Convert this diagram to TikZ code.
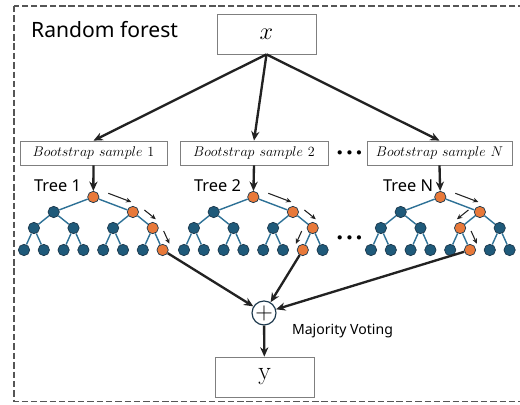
\documentclass[tikz,border=0pt]{standalone}
\usepackage{fontspec}
\setsansfont{Noto Sans}
\usetikzlibrary{arrows.meta}
\usetikzlibrary{calc}
\definecolor{knoten}{RGB}{31,90,122}
\definecolor{kante}{RGB}{46,113,150}
\definecolor{pfad}{RGB}{232,121,58}
\definecolor{umriss}{RGB}{27,55,75}
\definecolor{pfeil}{RGB}{34,34,34}
\definecolor{rahmen}{RGB}{85,85,85}
\definecolor{kastenrand}{RGB}{127,127,127}

\tikzset{
	kasten/.style={draw=kastenrand, line width=0.6pt, fill=white, inner sep=0pt},
	blatt/.style={circle, draw=umriss, fill=knoten, line width=0.6pt, inner sep=0pt, minimum size=3.4mm},
	aktiv/.style={blatt, fill=pfad},
	zweig/.style={kante, line width=1.2pt},
	hauptpfeil/.style={pfeil, line width=2pt, -{Stealth[length=8pt, width=7pt]}},
	kleinpfeil/.style={pfeil, line width=0.9pt, -{Stealth[length=4.5pt, width=4pt]}},
	beschriftung/.style={font=\sffamily\fontsize{14}{16}\selectfont, anchor=base west}
}

\begin{document}
\begin{tikzpicture}[x=0.03cm, y=-0.03cm]
	\useasboundingbox (0,0) rectangle (520,405);

	% Rahmen
	\draw[rahmen, line width=0.9pt, dash pattern=on 5.5pt off 2.5pt] (14,6) rectangle (530,401.5);
	\node[font=\sffamily\fontsize{18}{20}\selectfont, anchor=base west] (titel) at (27,38) {Random forest};

	% Eingang
	\node[kasten, minimum width=2.97cm, minimum height=1.2cm, font=\fontsize{21}{21}\selectfont] (x) at (266.5,34) {$x$};

	% Bootstrap
	\node[kasten, minimum width=4.41cm, minimum height=0.72cm, font=\fontsize{12.8}{14}\selectfont] (B1) at (93.5,153) {$Bootstrap\ sample\ 1$};
	\node[kasten, minimum width=4.44cm, minimum height=0.72cm, font=\fontsize{12.8}{14}\selectfont] (B2) at (254,153) {$Bootstrap\ sample\ 2$};
	\node[kasten, minimum width=4.35cm, minimum height=0.72cm, font=\fontsize{12.8}{14}\selectfont] (BN) at (439.5,153) {$Bootstrap\ sample\ N$};
	\node[font=\fontsize{9}{9}\selectfont] (punkte1) at (349.5,153) {$\bullet\,\bullet\,\bullet$};

	\draw[hauptpfeil] (x.south) -- (B1.north);
	\draw[hauptpfeil] (x.south) -- (B2.north);
	\draw[hauptpfeil] (x.south) -- (BN.north);

	% Baeume
	\node[beschriftung] (L1) at (30,192) {Tree 1};
	\node[beschriftung] (L2) at (190,192) {Tree 2};
	\node[beschriftung] (LN) at (379,192) {Tree N};

	\foreach \t/\xl/\pa/\pb/\pc in {1/24/3/7/15, 2/184/3/7/14, N/371/3/6/13} {
		\foreach \k/\dx/\y in {1/69.3/197, 2/29.7/212, 3/108.9/212,
				4/9.9/228, 5/49.5/228, 6/89.1/228, 7/128.7/228,
				8/0/250, 9/19.8/250, 10/39.6/250, 11/59.4/250,
				12/79.2/250, 13/99/250, 14/118.8/250, 15/138.6/250} {
			\def\stil{blatt}
			\ifnum\k=1 \def\stil{aktiv}\fi
			\ifnum\k=\pa \def\stil{aktiv}\fi
			\ifnum\k=\pb \def\stil{aktiv}\fi
			\ifnum\k=\pc \def\stil{aktiv}\fi
			\node[\stil] (T\t-\k) at (\xl+\dx,\y) {};
		}
		\foreach \k in {2,...,15} {
			\pgfmathtruncatemacro\eltern{\k/2}
			\draw[zweig] (T\t-\eltern) -- (T\t-\k);
		}
		% Pfad
		\foreach \q/\k in {1/\pa, \pa/\pb, \pb/\pc} {
			\pgfmathsetmacro\seite{isodd(\k) ? 90 : -90}
			\draw[kleinpfeil] ($(T\t-\q)!0.3!(T\t-\k)!7.5pt!\seite:(T\t-\k)$) -- ($(T\t-\q)!0.88!(T\t-\k)!7.5pt!\seite:(T\t-\k)$);
		}
		\draw[hauptpfeil] (B\t.south) -- (T\t-1);
	}
	\node[font=\fontsize{9}{9}\selectfont] (punkte2) at (349.5,238) {$\bullet\,\bullet\,\bullet$};

	% Abstimmung
	\node[circle, draw=umriss, line width=1pt, fill=white, minimum size=0.72cm, inner sep=0pt, font=\fontsize{20}{20}\selectfont] (plus) at (264,313) {$+$};
	\node[font=\sffamily\fontsize{12}{14}\selectfont] (mv) at (342.5,331) {Majority Voting};

	\draw[hauptpfeil] (T1-15) -- (plus);
	\draw[hauptpfeil] (T2-14) -- (plus);
	\draw[hauptpfeil] (TN-13) -- (plus);

	% Ausgang
	\node[kasten, minimum width=2.97cm, minimum height=1.2cm, font=\fontsize{22}{22}\selectfont] (y) at (264.5,377) {y};
	\draw[hauptpfeil] (plus) -- (y);

\end{tikzpicture}
\end{document}
